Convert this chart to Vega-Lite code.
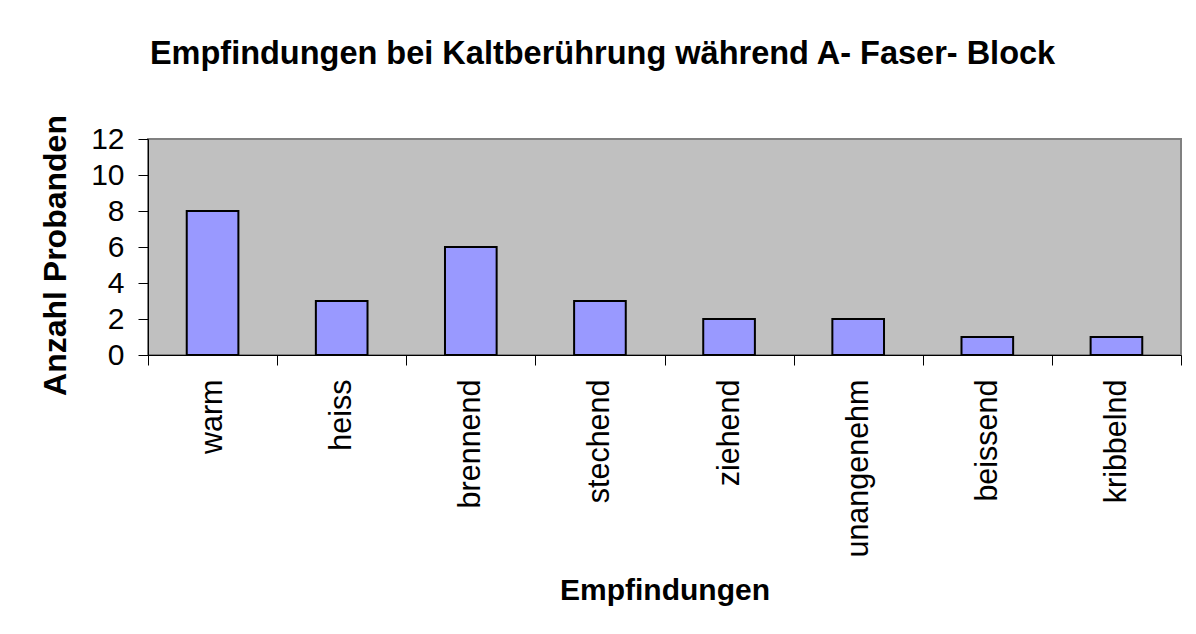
{
  "$schema": "https://vega.github.io/schema/vega-lite/v6.json",
  "autosize": "none",
  "width": 1033,
  "height": 216,
  "padding": {"left": 148, "top": 139, "right": 15, "bottom": 279},
  "background": "white",
  "title": {
    "text": "Empfindungen bei Kaltberührung während A- Faser- Block",
    "font": "Liberation Sans",
    "fontSize": 32.5,
    "fontWeight": "bold",
    "color": "black",
    "anchor": "middle",
    "frame": "group",
    "baseline": "alphabetic",
    "offset": 18,
    "dx": -62
  },
  "data": {
    "values": [
      {"Empfindung": "warm", "Anzahl": 8},
      {"Empfindung": "heiss", "Anzahl": 3},
      {"Empfindung": "brennend", "Anzahl": 6},
      {"Empfindung": "stechend", "Anzahl": 3},
      {"Empfindung": "ziehend", "Anzahl": 2},
      {"Empfindung": "unangenehm", "Anzahl": 2},
      {"Empfindung": "beissend", "Anzahl": 1},
      {"Empfindung": "kribbelnd", "Anzahl": 1}
    ]
  },
  "mark": {
    "type": "bar",
    "color": "#9999FF",
    "stroke": "black",
    "strokeWidth": 2,
    "width": {"band": 0.4}
  },
  "encoding": {
    "x": {
      "field": "Empfindung",
      "type": "nominal",
      "sort": null,
      "scale": {"paddingInner": 0, "paddingOuter": 0},
      "axis": {
        "title": "Empfindungen",
        "labelAngle": -90,
        "labelAlign": "right",
        "labelBaseline": "middle",
        "labelPadding": 14,
        "labelFontSize": 30.5,
        "tickBand": "extent",
        "tickSize": 10,
        "titlePadding": 20
      }
    },
    "y": {
      "field": "Anzahl",
      "type": "quantitative",
      "scale": {"domain": [0, 12], "nice": false},
      "axis": {
        "title": "Anzahl Probanden",
        "values": [0, 2, 4, 6, 8, 10, 12],
        "grid": false,
        "tickSize": 10,
        "labelPadding": 14,
        "titlePadding": 18,
        "titleFontSize": 32,
        "titleY": 116
      }
    }
  },
  "config": {
    "font": "Liberation Sans",
    "view": {"fill": "#C0C0C0", "stroke": "#808080", "strokeWidth": 2},
    "axis": {
      "domainColor": "black",
      "domainWidth": 1,
      "tickColor": "black",
      "tickWidth": 1,
      "labelColor": "black",
      "labelFont": "Liberation Sans",
      "labelFontSize": 30,
      "titleColor": "black",
      "titleFont": "Liberation Sans",
      "titleFontSize": 30,
      "titleFontWeight": "bold",
      "labelOverlap": false,
      "labelLimit": 0
    }
  }
}
